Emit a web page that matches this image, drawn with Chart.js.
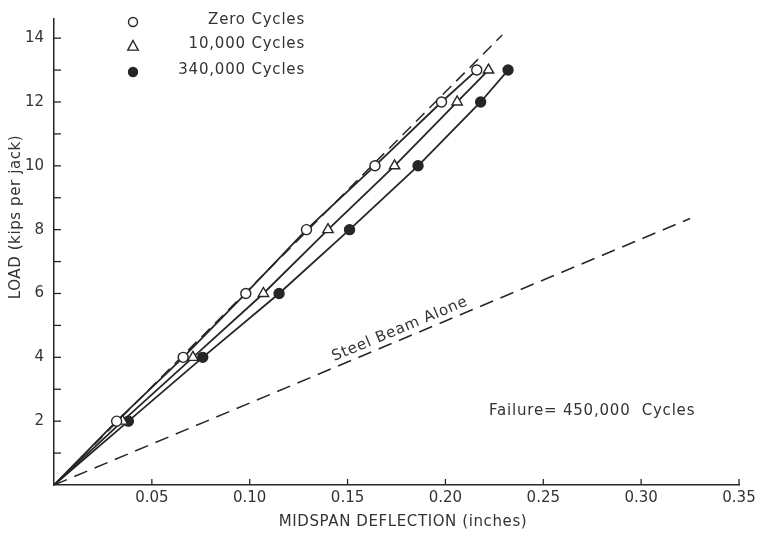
<!DOCTYPE html>
<html>
<head>
<meta charset="utf-8">
<script src="https://cdn.jsdelivr.net/npm/chart.js@4.4.1/dist/chart.umd.min.js"></script>
<style>
  html, body { margin: 0; padding: 0; background: #ffffff; }
  #wrap { width: 765px; height: 540px; }
</style>
</head>
<body>
<div id="wrap"><canvas id="c" width="765" height="540"></canvas></div>
<script>
// ---- data ----
const loads = [2, 4, 6, 8, 10, 12, 13];                                     // kips per jack
const zeroCycles = [0.032, 0.066, 0.098, 0.129, 0.164, 0.198, 0.216];       // in.
const tenKCycles = [0.035, 0.071, 0.107, 0.140, 0.174, 0.206, 0.222];       // in.
const k340Cycles = [0.038, 0.076, 0.115, 0.151, 0.186, 0.218, 0.232];       // in.
const upperDashX = [0, 0.229];
const upperDashY = [0, 14.1];
const steelX = [0, 0.325];
const steelY = [0, 8.35];
const seriesNames = ['Zero Cycles', '10,000 Cycles', '340,000 Cycles'];
const xTickLabels = ['0.05', '0.10', '0.15', '0.20', '0.25', '0.30', '0.35'];
const yTickLabels = ['2', '4', '6', '8', '10', '12', '14'];
const xTitle = 'MIDSPAN DEFLECTION (inches)';
const yTitle = 'LOAD (kips per jack)';
const steelLabel = 'Steel Beam Alone';
const failureNote = 'Failure= 450,000  Cycles';

const INK = '#262626';
const TXT = '#333333';
const FONT = '"DejaVu Sans", sans-serif';

const pts = xs => xs.map((x, i) => ({ x: x, y: loads[i] }));
const polyFromOrigin = xs => [{ x: 0, y: 0 }].concat(pts(xs));
const pair = (xs, ys) => xs.map((x, i) => ({ x: x, y: ys[i] }));

const markerStyles = [
  { pointStyle: 'circle', radius: 5, bg: '#ffffff' },
  { pointStyle: 'triangle', radius: 6, bg: '#ffffff' },
  { pointStyle: 'circle', radius: 5, bg: INK }
];
const seriesX = [zeroCycles, tenKCycles, k340Cycles];

const datasets = [];
seriesX.forEach((xs, i) => {
  datasets.push({
    label: seriesNames[i], data: pts(xs), showLine: false, order: 0,
    pointStyle: markerStyles[i].pointStyle, pointRadius: markerStyles[i].radius,
    pointBackgroundColor: markerStyles[i].bg, pointBorderColor: INK, pointBorderWidth: 1.4
  });
});
seriesX.forEach((xs, i) => {
  datasets.push({
    label: seriesNames[i] + ' line', data: polyFromOrigin(xs), showLine: true, order: 2,
    pointRadius: 0, borderColor: INK, borderWidth: 1.8
  });
});
datasets.push({ label: 'upper dashed', data: pair(upperDashX, upperDashY), showLine: true, order: 3,
  pointRadius: 0, borderColor: INK, borderWidth: 1.5, borderDash: [12, 7] });
datasets.push({ label: 'steel', data: pair(steelX, steelY), showLine: true, order: 3,
  pointRadius: 0, borderColor: INK, borderWidth: 1.5, borderDash: [14, 8] });

const decor = {
  id: 'decor',
  afterDraw(chart) {
    const ctx = chart.ctx;
    const xs = chart.scales.x, ys = chart.scales.y;
    const ca = chart.chartArea;
    ctx.save();
    // inward tick marks
    ctx.strokeStyle = INK; ctx.lineWidth = 1.3;
    xs.ticks.forEach(t => {
      if (t.value <= 0.0001) return;
      const px = xs.getPixelForValue(t.value);
      ctx.beginPath(); ctx.moveTo(px, ca.bottom); ctx.lineTo(px, ca.bottom - 6); ctx.stroke();
    });
    ys.ticks.forEach(t => {
      if (t.value <= 0 || Math.abs(t.value - Math.round(t.value)) > 1e-6) return;
      const py = ys.getPixelForValue(t.value);
      ctx.beginPath(); ctx.moveTo(ca.left, py); ctx.lineTo(ca.left + 7, py); ctx.stroke();
    });
    // axis titles
    ctx.fillStyle = TXT;
    ctx.font = '15px ' + FONT;
    ctx.letterSpacing = '0.6px';
    ctx.textAlign = 'center'; ctx.textBaseline = 'middle';
    ctx.fillText(xTitle, 403, 522);
    ctx.save();
    ctx.translate(16, 217); ctx.rotate(-Math.PI / 2);
    ctx.fillText(yTitle, 0, 0);
    ctx.restore();
    // failure note
    ctx.textAlign = 'left';
    ctx.letterSpacing = '0.8px';
    ctx.fillText(failureNote, 489, 411);
    // steel beam label along its line
    const p0x = xs.getPixelForValue(steelX[0]), p0y = ys.getPixelForValue(steelY[0]);
    const p1x = xs.getPixelForValue(steelX[1]), p1y = ys.getPixelForValue(steelY[1]);
    const ang = Math.atan2(p1y - p0y, p1x - p0x);
    const f = 0.55;
    const cx = p0x + (p1x - p0x) * f, cy = p0y + (p1y - p0y) * f;
    ctx.save();
    ctx.translate(cx, cy); ctx.rotate(ang);
    ctx.textAlign = 'center'; ctx.textBaseline = 'alphabetic';
    ctx.letterSpacing = '0.8px';
    ctx.font = '15px ' + FONT;
    ctx.fillText(steelLabel, 0, -6);
    ctx.restore();
    // legend
    ctx.letterSpacing = '0.8px';
    ctx.font = '15px ' + FONT;
    const rowsY = [20, 44, 70];
    seriesNames.forEach((name, i) => {
      const ms = markerStyles[i];
      const mx = 133, my = rowsY[i] + 2;
      ctx.fillStyle = ms.bg; ctx.strokeStyle = INK; ctx.lineWidth = 1.4;
      ctx.beginPath();
      if (ms.pointStyle === 'circle') {
        ctx.arc(mx, my, 4.5, 0, Math.PI * 2);
      } else {
        const r = 5.5;
        ctx.moveTo(mx, my - r); ctx.lineTo(mx + r * 0.95, my + r * 0.75); ctx.lineTo(mx - r * 0.95, my + r * 0.75); ctx.closePath();
      }
      ctx.fill(); ctx.stroke();
      ctx.fillStyle = TXT;
      ctx.textAlign = 'right'; ctx.textBaseline = 'middle';
      ctx.fillText(name, 305, rowsY[i]);
    });
    ctx.restore();
  }
};

new Chart(document.getElementById('c'), {
  type: 'scatter',
  data: { datasets: datasets },
  options: {
    responsive: false, animation: false, devicePixelRatio: 1,
    layout: { padding: { left: 0, right: 26, top: 4, bottom: 0 } },
    plugins: { legend: { display: false }, tooltip: { enabled: false } },
    elements: { line: { tension: 0 } },
    scales: {
      x: {
        type: 'linear', min: 0, max: 0.35,
        afterFit: s => { s.height = 55; },
        grid: { display: true, drawOnChartArea: false, drawTicks: false },
        border: { display: true, color: INK, width: 1.5 },
        ticks: {
          stepSize: 0.05, padding: 4, color: TXT, font: { family: FONT, size: 15 },
          maxRotation: 0, autoSkip: false,
          callback: v => { const s = Number(v).toFixed(2); return xTickLabels.includes(s) ? s : ''; }
        }
      },
      y: {
        type: 'linear', min: 0, max: 14.6,
        afterFit: s => { s.width = 54; },
        grid: { display: true, drawOnChartArea: false, drawTicks: false },
        border: { display: true, color: INK, width: 1.5 },
        ticks: {
          stepSize: 1, padding: 10, color: TXT, font: { family: FONT, size: 15 }, autoSkip: false,
          callback: v => { const s = String(v); return yTickLabels.includes(s) ? s : ''; }
        }
      }
    }
  },
  plugins: [decor]
});
</script>
</body>
</html>
